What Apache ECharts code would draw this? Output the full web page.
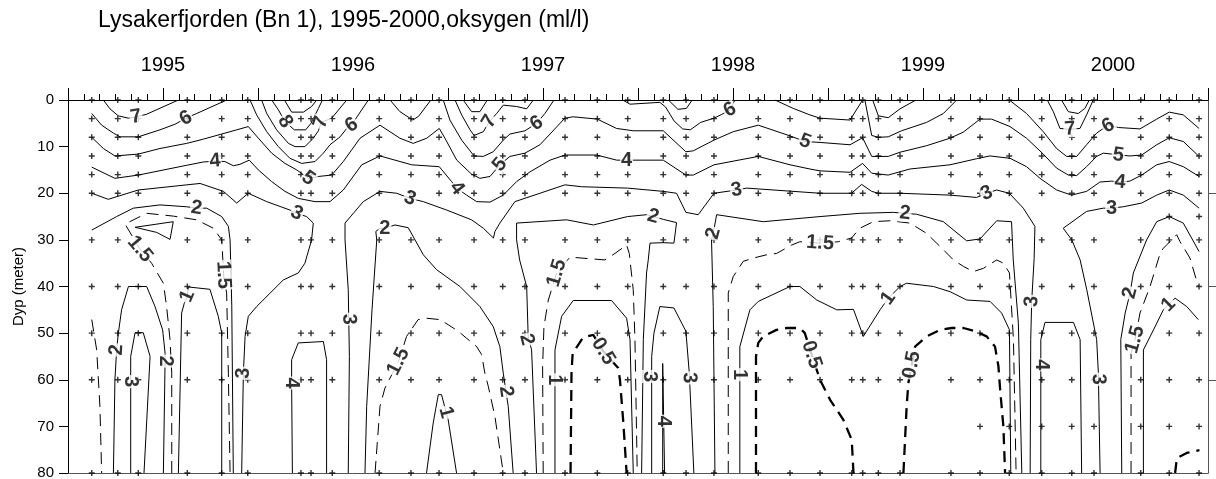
<!DOCTYPE html>
<html><head><meta charset="utf-8">
<script src="https://cdn.jsdelivr.net/npm/echarts@6/dist/echarts.min.js"></script>
<style>html,body{margin:0;padding:0;background:#fff}#c{width:1216px;height:479px}</style>
</head><body><div id="c"></div>
<script>
// ---- data (x = decimal year, y = depth in metres) ----
const titleText = 'Lysakerfjorden (Bn 1), 1995-2000,oksygen (ml/l)';
const yearRange = [1995, 2001];
const depthRange = [0, 80];

const sampleDates = [1995.125,1995.262,1995.370,1995.628,1995.809,1995.946,1996.226,1996.279,1996.391,1996.638,1996.805,1996.953,1997.137,1997.288,1997.405,1997.616,1997.786,1997.946,1998.133,1998.253,1998.400,1998.633,1998.800,1998.958,1999.125,1999.183,1999.265,1999.379,1999.647,1999.800,1999.954,2000.125,2000.283,2000.400,2000.646,2000.796,2000.953];
const sampleDepths = [0,4,8,12,16,20,30,40,50,60,80];
const extraSamples = [[1999.800,70],[1999.954,70],[2000.125,70],[2000.283,70],[2000.400,70],[2000.646,70],[2000.796,70],[2000.953,70],[2000.796,25],[2000.953,25]];

const c8 = [
 [[1996.072,0],[1996.107,2.1],[1996.142,4.6],[1996.191,6.4],[1996.251,6.4],[1996.279,5.0],[1996.318,1.8],[1996.339,0]],
 [[1996.139,0],[1996.177,2.6],[1996.239,2.6],[1996.282,1.4],[1996.309,0]],
 [[1997.080,0],[1997.124,2.5],[1997.168,2.5],[1997.207,0]],
 [[2000.229,0],[2000.265,2.5],[2000.317,2.9],[2000.352,1.8],[2000.375,0]]
];
const c7 = [
 [[1995.186,0],[1995.221,1.9],[1995.265,3.4],[1995.318,3.9],[1995.358,3.6],[1995.411,3.1],[1995.581,0]],
 [[1996.019,0],[1996.046,2.9],[1996.098,6.4],[1996.160,9.3],[1996.195,10],[1996.247,10],[1996.291,8.2],[1996.318,6.6],[1996.332,4.8],[1996.388,3.9],[1996.467,0]],
 [[1997.037,0],[1997.072,3.2],[1997.116,6.4],[1997.137,7.6],[1997.186,6.8],[1997.218,4.6],[1997.256,2.9],[1997.291,1.1],[1997.361,1.4],[1997.414,1.9],[1997.449,0]],
 [[1998.160,0],[1998.210,2],[1998.255,1.8],[1998.285,0]],
 [[1999.235,0],[1999.265,3.4],[1999.317,3.8],[1999.379,1.9],[1999.463,0]],
 [[2000.154,0],[2000.186,2.5],[2000.221,6.1],[2000.274,6.3],[2000.326,6.1],[2000.361,3.2],[2000.396,0]]
];
const c6 = [
 [[1995.125,2.9],[1995.177,5.4],[1995.239,7.1],[1995.274,7.9],[1995.370,7.9],[1995.484,6.4],[1995.563,5.2],[1995.621,3.9],[1995.677,2.9],[1995.835,0]],
 [[1995.958,0],[1995.993,3.2],[1996.046,6.8],[1996.107,10],[1996.168,12.5],[1996.230,13.6],[1996.300,13.2],[1996.344,11.4],[1996.379,9.6],[1996.432,7.9],[1996.467,6.1],[1996.493,5.4],[1996.528,3.2],[1996.581,0]],
 [[1996.695,0],[1996.747,2.5],[1996.815,4.3],[1996.845,3.5],[1996.910,0]],
 [[1996.975,0],[1997.010,4.3],[1997.072,8.6],[1997.137,12],[1997.186,12.1],[1997.238,11.1],[1997.291,8.6],[1997.326,7.3],[1997.405,6.6],[1997.466,5],[1997.510,2.9],[1997.558,0]],
 [[1997.920,0],[1997.958,0.9],[1998.115,0.5],[1998.145,1.5],[1998.190,4.5],[1998.235,6.2],[1998.275,6.4],[1998.330,4.8],[1998.400,3.9],[1998.440,3.1],[1998.484,2.1],[1998.510,0]],
 [[1998.721,0],[1998.817,1.8],[1998.905,3.2],[1998.958,3.9],[1999.116,4.3],[1999.182,0]],
 [[1999.194,0],[1999.230,7.6],[1999.265,8],[1999.317,7.9],[1999.387,6.6],[1999.519,4.8],[1999.607,2.9],[1999.677,0]],
 [[1999.954,0],[2000.045,2.9],[2000.133,6.8],[2000.203,10.4],[2000.256,12.1],[2000.309,12.1],[2000.361,9.6],[2000.414,7.1],[2000.449,6.1],[2000.475,5.5],[2000.528,5.9],[2000.642,6.2],[2000.730,4.1],[2000.796,2.6],[2000.870,3.2],[2000.953,6.1]]
];
const c5 = [
 [[1995.125,8],[1995.186,10.4],[1995.247,12],[1995.370,11.6],[1995.484,10.4],[1995.625,9.3],[1995.712,8.4],[1995.800,7.4],[1995.888,6.4],[1995.949,5.7],[1996.002,8.2],[1996.072,11.4],[1996.142,13.6],[1996.204,15],[1996.265,16.8],[1996.318,16.4],[1996.388,16.1],[1996.449,13.2],[1996.537,8.2],[1996.642,5.4],[1996.747,8.2],[1996.817,9.3],[1996.888,8.2],[1996.954,6.1],[1996.984,8.2],[1997.046,12.9],[1997.124,15.9],[1997.168,16.8],[1997.221,16.4],[1997.273,13.9],[1997.326,12.1],[1997.405,11.4],[1997.484,9.6],[1997.615,3.9],[1997.659,3.6],[1997.786,4.1],[1997.887,6.1],[1997.975,6.6],[1998.133,6.6],[1998.252,11.1],[1998.291,10.9],[1998.400,8.6],[1998.501,6.8],[1998.633,5.4],[1998.800,7.7],[1998.879,8.9],[1998.958,9.1],[1999.116,9.6],[1999.182,8.1],[1999.230,12.1],[1999.317,12.1],[1999.379,11.2],[1999.519,9.8],[1999.642,8.2],[1999.712,6.9],[1999.800,4.1],[1999.861,4.1],[1999.958,5.7],[2000.045,8.2],[2000.133,11.6],[2000.203,14.6],[2000.265,16.1],[2000.309,16.2],[2000.361,14.3],[2000.414,12.1],[2000.449,11.4],[2000.493,11.6],[2000.528,11.8],[2000.589,12],[2000.651,11.8],[2000.730,9.6],[2000.796,8.1],[2000.870,8.9],[2000.953,12.1]]
];
const c4 = [
 [[1995.125,14.4],[1995.247,16.8],[1995.370,16.1],[1995.625,14],[1995.712,13.3],[1995.774,13.1],[1995.826,13.2],[1995.870,14.1],[1995.905,13.8],[1995.954,12.9],[1996.002,15],[1996.072,17.5],[1996.142,19.6],[1996.212,21.1],[1996.300,21.8],[1996.379,21.8],[1996.449,19.3],[1996.546,13.9],[1996.642,12],[1996.809,13.9],[1996.954,14.3],[1997.019,17.5],[1997.046,18.9],[1997.098,20.4],[1997.151,21.8],[1997.221,21.9],[1997.291,20.4],[1997.361,17.5],[1997.432,15.4],[1997.537,12.9],[1997.616,11.8],[1997.782,11.8],[1997.888,12.9],[1997.940,12.9],[1998.011,12.9],[1998.133,12.9],[1998.252,16.1],[1998.291,16.1],[1998.400,13.9],[1998.633,12.1],[1998.800,13.9],[1998.905,14.8],[1998.958,15.2],[1999.116,15.5],[1999.182,13.6],[1999.230,15.7],[1999.317,16.1],[1999.431,14.8],[1999.642,13.9],[1999.782,12.6],[1999.852,12],[1999.958,12.5],[2000.045,14.3],[2000.116,16.8],[2000.203,19.3],[2000.282,20.4],[2000.361,19.6],[2000.431,17.6],[2000.493,17.4],[2000.537,17.6],[2000.589,17.4],[2000.651,16.1],[2000.730,13.9],[2000.796,13.2],[2000.870,14.3],[2000.953,16.4]],
 [[1996.181,80],[1996.177,60.7],[1996.177,55.7],[1996.212,52.1],[1996.344,51.8],[1996.361,55.7],[1996.361,80]],
 [[1998.130,80],[1998.130,56.5],[1998.137,56.5],[1998.140,80]],
 [[2000.120,80],[2000.120,51.4],[2000.142,47.7],[2000.292,47.7],[2000.327,51.4],[2000.335,80]]
];
const c3 = [
 [[1995.125,20],[1995.212,21.3],[1995.370,19.3],[1995.625,18.2],[1995.695,17.9],[1995.818,19.6],[1995.888,22.1],[1995.949,20],[1996.046,21.8],[1996.168,23.6],[1996.204,24.3],[1996.256,25],[1996.291,26.4],[1996.282,30],[1996.247,35],[1996.212,37.1],[1996.133,38.6],[1995.993,44.3],[1995.949,46.4],[1995.932,50.7],[1995.923,58.6],[1995.914,80]],
 [[1996.475,80],[1996.481,55],[1996.475,40.7],[1996.458,30],[1996.458,26.4],[1996.554,21.8],[1996.642,19.6],[1996.730,20],[1996.800,21.1],[1996.870,21.8],[1996.993,23.6],[1997.124,25.7],[1997.186,27.5],[1997.239,29.6],[1997.247,28.2],[1997.273,26.4],[1997.352,21.8],[1997.484,20],[1997.615,18.2],[1997.703,18.6],[1997.945,18.9],[1998.133,19.6],[1998.203,20],[1998.252,24.1],[1998.317,24.6],[1998.400,20],[1998.519,19.3],[1998.572,18.9],[1998.958,20],[1999.124,20],[1999.177,18.1],[1999.230,19.6],[1999.265,20],[1999.379,20],[1999.642,20.4],[1999.782,20.9],[1999.835,20],[1999.888,19.3],[1999.954,20],[2000.028,23.2],[2000.089,27.1],[2000.085,34],[2000.072,43.2],[2000.067,51.4],[2000.064,80]],
 [[2000.432,80],[2000.423,58.6],[2000.414,51.4],[2000.362,40.7],[2000.327,34.3],[2000.283,30],[2000.238,27.5],[2000.361,23.9],[2000.449,23.2],[2000.493,23.2],[2000.554,22.9],[2000.651,22.1],[2000.730,20.4],[2000.796,19.3],[2000.870,20.4],[2000.953,23.2]],
 [[1995.330,80],[1995.330,55],[1995.353,49.9],[1995.396,49.9],[1995.432,55],[1995.400,80]],
 [[1998.072,80],[1998.072,55],[1998.084,50],[1998.115,44.3],[1998.189,44.6],[1998.252,49.6],[1998.270,58.6],[1998.294,80]]
];
const c2 = [
 [[1995.125,27.9],[1995.256,25],[1995.344,23.2],[1995.484,22.5],[1995.625,22.9],[1995.677,23.2],[1995.730,23.2],[1995.809,25],[1995.844,27.1],[1995.853,30],[1995.862,44],[1995.870,80]],
 [[1996.563,80],[1996.572,65.7],[1996.600,45],[1996.625,30],[1996.620,28.2],[1996.642,27.5],[1996.668,27.5],[1996.721,26.8],[1996.791,27.4],[1996.870,33.2],[1996.940,36.4],[1997.063,40],[1997.168,44.3],[1997.238,48.6],[1997.273,52.9],[1997.291,58.6],[1997.305,62.5],[1997.317,65.7],[1997.343,80]],
 [[1997.466,80],[1997.440,53.6],[1997.422,50.7],[1997.414,40],[1997.377,34.3],[1997.361,30],[1997.361,26.4],[1997.624,25.7],[1997.765,26.8],[1997.945,25],[1998.045,24.6],[1998.080,25],[1998.133,25.6],[1998.203,26.3],[1998.189,30.7],[1998.133,30.6],[1998.063,30.7],[1998.054,34.3],[1998.045,37.1],[1998.028,51.4],[1998.019,80]],
 [[1998.405,80],[1998.396,44.3],[1998.387,30],[1998.396,28.6],[1998.414,24.6],[1998.659,26.1],[1998.958,25],[1999.168,24.3],[1999.344,24.1],[1999.405,24.3],[1999.466,24.5],[1999.607,26.1],[1999.730,30.2],[1999.800,29.8],[1999.888,25.9],[1999.966,26.1],[1999.975,34.3],[2000.002,47.9],[2000.020,80]],
 [[2000.546,80],[2000.541,51.4],[2000.564,45.7],[2000.590,41.4],[2000.607,37.1],[2000.677,30],[2000.730,26.1],[2000.796,25],[2000.870,26.4],[2000.953,32.5]],
 [[1995.239,80],[1995.247,60],[1995.256,53.6],[1995.265,50],[1995.282,45],[1995.318,40],[1995.414,40],[1995.458,44.3],[1995.498,49.3],[1995.511,54.3],[1995.511,56],[1995.502,80]]
];
const c1 = [
 [[1995.353,27.3],[1995.554,26.1],[1995.537,29.9],[1995.467,28.4],[1995.353,27.3]],
 [[1995.581,80],[1995.598,45.7],[1995.612,43.6],[1995.628,42.1],[1995.633,40.1],[1995.747,40.6],[1995.791,46.4],[1995.809,50],[1995.809,80]],
 [[1996.887,80],[1996.922,69.3],[1996.949,63.2],[1996.966,63.2],[1996.984,66],[1997.001,68.6],[1997.045,80]],
 [[1997.563,80],[1997.563,53.6],[1997.598,46.4],[1997.659,43],[1997.861,43],[1997.940,46.8],[1997.958,51.4],[1997.975,80]],
 [[1998.536,80],[1998.536,52.9],[1998.589,45],[1998.633,43.2],[1998.800,40],[1998.852,40],[1998.941,42.9],[1999.046,45],[1999.134,44.9],[1999.186,50.7],[1999.274,45],[1999.318,42.5],[1999.379,40],[1999.414,39.3],[1999.555,40],[1999.642,41.1],[1999.730,42.9],[1999.853,43.2],[1999.914,45.7],[1999.955,49.3],[1999.962,80]],
 [[2000.660,80],[2000.660,53.6],[2000.713,49.3],[2000.765,45],[2000.792,43.9],[2000.827,42.5],[2000.888,44.3],[2000.949,47.1]]
];
const c15 = [
 [[1995.125,47.1],[1995.151,53.6],[1995.168,65.7],[1995.177,80]],
 [[1995.546,80],[1995.546,58.6],[1995.537,51.4],[1995.519,44.3],[1995.502,39.3],[1995.440,35],[1995.379,32],[1995.300,26.6],[1995.414,24.3],[1995.554,24.9],[1995.677,25.7],[1995.765,27.5],[1995.809,30],[1995.816,35],[1995.820,38],[1995.835,41.4],[1995.844,58.6],[1995.853,80]],
 [[1996.616,80],[1996.642,65.7],[1996.668,61.8],[1996.739,56.1],[1996.782,50.7],[1996.843,47.1],[1996.887,46.8],[1996.958,47.1],[1997.001,48.2],[1997.054,49.6],[1997.098,51.1],[1997.151,52.9],[1997.177,54.6],[1997.194,58.6],[1997.212,61.4],[1997.247,67.9],[1997.291,80]],
 [[1997.501,80],[1997.498,57.1],[1997.505,48.6],[1997.528,42.9],[1997.572,37.1],[1997.642,33.7],[1997.826,34.3],[1997.879,32.9],[1997.940,31.1],[1997.954,32.9],[1997.975,40.7],[1997.984,51.4],[1997.996,80]],
 [[1998.475,80],[1998.475,41.4],[1998.501,37.9],[1998.554,34.6],[1998.607,33.9],[1998.677,33.2],[1998.730,32.9],[1998.809,31.1],[1998.852,30.4],[1998.958,30.7],[1999.054,30.4],[1999.124,29.6],[1999.168,27.5],[1999.238,26.1],[1999.326,25.9],[1999.431,26.4],[1999.519,28.6],[1999.607,32.1],[1999.660,34.3],[1999.713,35.7],[1999.765,36.8],[1999.818,36.1],[1999.888,34.3],[1999.923,35],[1999.955,37.1],[1999.976,51.4],[1999.990,80]],
 [[2000.595,80],[2000.595,54.3],[2000.616,51.4],[2000.642,45.7],[2000.695,40],[2000.748,32.9],[2000.765,31.8],[2000.809,30],[2000.835,28.9],[2000.853,30.4],[2000.905,33.9],[2000.914,34.3],[2000.949,40]]
];
const c05 = [
 [[1997.645,80],[1997.650,58.6],[1997.656,54.3],[1997.712,50.9],[1997.765,50.4],[1997.817,53.9],[1997.896,57.5],[1997.905,60],[1997.923,69.3],[1997.940,80]],
 [[1998.621,80],[1998.621,55],[1998.633,52.1],[1998.659,50.7],[1998.729,49.3],[1998.782,48.9],[1998.852,48.9],[1998.878,50],[1998.914,54.6],[1998.958,60],[1999.011,64.3],[1999.081,68.6],[1999.125,72.9],[1999.134,80]],
 [[1999.397,80],[1999.414,65.7],[1999.423,60.7],[1999.441,56.8],[1999.458,52.9],[1999.520,50.7],[1999.590,49.3],[1999.651,48.9],[1999.713,48.9],[1999.774,49.6],[1999.835,50.7],[1999.879,52.9],[1999.897,57.1],[1999.906,62.1],[1999.923,70],[1999.932,80]],
 [[2000.827,80],[2000.836,76.8],[2000.888,75.7],[2000.955,75.1]]
];
const contourLabels = [
 [1995.358,3.6,'7'],[1995.621,3.9,'6'],[1995.774,13.1,'4'],[1995.677,23.2,'2'],[1995.379,32,'1.5'],[1995.818,37.5,'1.5'],
 [1995.628,42.1,'1'],[1995.256,53.6,'2'],[1995.511,56,'2'],[1995.330,60.4,'3'],[1995.923,58.6,'3'],
 [1996.142,4.6,'8'],[1996.332,4.8,'7'],[1996.493,5.4,'6'],[1996.265,16.8,'5'],[1996.204,24.3,'3'],[1996.177,60.7,'4'],
 [1996.478,47,'3'],[1996.668,27.5,'2'],[1996.739,56.1,'1.5'],[1996.800,21.1,'3'],[1997.046,18.9,'4'],[1997.218,4.6,'7'],
 [1997.273,13.9,'5'],[1997.466,5,'6'],[1996.990,67,'1'],[1997.305,62.5,'2'],[1997.572,37.1,'1.5'],[1997.414,51.4,'2'],
 [1997.563,60,'1'],[1997.817,53.9,'0.5'],[1997.940,12.9,'4'],[1998.080,25,'2'],[1998.063,59.3,'3'],[1998.133,68.9,'4'],
 [1998.270,59.6,'3'],[1998.484,2.1,'6'],[1998.519,19.3,'3'],[1998.396,28.6,'2'],[1998.879,8.9,'5'],[1998.958,30.7,'1.5'],
 [1998.536,58.9,'1'],[1998.914,54.6,'0.5'],[1999.405,24.3,'2'],[1999.318,42.5,'1'],[1999.441,56.8,'0.5'],[1999.835,20,'3'],
 [2000.072,43.2,'3'],[2000.125,56.8,'4'],[2000.274,6.2,'7'],[2000.475,5.5,'6'],[2000.528,11.8,'5'],[2000.537,17.6,'4'],
 [2000.493,23.2,'3'],[2000.423,59.9,'3'],[2000.590,41.4,'2'],[2000.616,51.4,'1.5'],[2000.792,43.9,'1']
];

// ---- rendering ----
const FONT = '"Liberation Sans", Arial, Helvetica, sans-serif';
const chart = echarts.init(document.getElementById('c'), null, {renderer: 'canvas'});

const solid = {color: '#000', width: 1, type: 'solid'};
const dash15 = {color: '#000', width: 1, type: [12, 7]};
const dash05 = {color: '#000', width: 2.3, type: [11, 7]};

function lines(groups, style) {
  return groups.map(seg => ({
    type: 'line', data: seg, xAxisIndex: 0, yAxisIndex: 0,
    showSymbol: false, symbol: 'none', silent: true, animation: false,
    lineStyle: style, z: 3
  }));
}
const lineSeries = [].concat(
  lines(c8, solid), lines(c7, solid), lines(c6, solid), lines(c5, solid),
  lines(c4, solid), lines(c3, solid), lines(c2, solid), lines(c1, solid),
  lines(c15, dash15), lines(c05, dash05)
);

const samplePoints = sampleDates.flatMap(d => sampleDepths.map(z => [d, z])).concat(extraSamples);
const plusPath = 'path://M2.3,0h1.4v2.3h2.3v1.4h-2.3v2.3h-1.4v-2.3h-2.3v-1.4h2.3z';

const option = {
  backgroundColor: '#fff',
  animation: false,
  title: {
    text: titleText, left: 98, top: 9, padding: 0,
    textStyle: {fontFamily: FONT, fontSize: 23, fontWeight: 'normal', color: '#000'}
  },
  grid: {left: 68, right: 8, top: 100, bottom: 6, containLabel: false, outerBoundsMode: 'none'},
  xAxis: [
    {
      type: 'value', position: 'top', min: yearRange[0], max: yearRange[1], interval: 0.5,
      axisLine: {show: true, onZero: false, lineStyle: {color: '#000', width: 1}},
      axisTick: {show: true, inside: false, length: 12, lineStyle: {color: '#000'}},
      minorTick: {show: true, splitNumber: 6, length: 6, lineStyle: {color: '#000'}},
      axisLabel: {
        margin: 25, fontFamily: FONT, fontSize: 20, color: '#000',
        formatter: v => (Math.abs((v % 1) - 0.5) < 1e-6 ? String(Math.floor(v)) : '')
      },
      splitLine: {show: false}, minorSplitLine: {show: false}
    },
    {
      type: 'value', position: 'bottom', min: yearRange[0], max: yearRange[1],
      axisLine: {show: true, onZero: false, lineStyle: {color: '#555'}},
      axisTick: {show: false}, axisLabel: {show: false}, splitLine: {show: false}
    }
  ],
  yAxis: [
    {
      type: 'value', inverse: true, min: depthRange[0], max: depthRange[1], interval: 10, position: 'left',
      axisLine: {show: true, onZero: false, lineStyle: {color: '#000'}},
      axisTick: {show: true, length: 9, lineStyle: {color: '#000'}},
      axisLabel: {margin: 14, fontFamily: FONT, fontSize: 15, color: '#000'},
      splitLine: {show: false},
      name: 'Dyp (meter)', nameLocation: 'middle', nameGap: 38, nameRotate: 90,
      nameTextStyle: {fontFamily: FONT, fontSize: 15, color: '#000'}
    },
    {
      type: 'value', inverse: true, min: depthRange[0], max: depthRange[1], interval: 20, position: 'right',
      axisLine: {show: true, onZero: false, lineStyle: {color: '#555'}},
      axisTick: {show: true, length: 9, customValues: [20, 40, 60], lineStyle: {color: '#555'}},
      axisLabel: {show: false}, splitLine: {show: false}
    }
  ],
  series: lineSeries.concat([{
    type: 'scatter', data: samplePoints, xAxisIndex: 0, yAxisIndex: 0,
    symbol: plusPath, symbolSize: 6, itemStyle: {color: '#000'}, silent: true, z: 4
  }])
};
chart.setOption(option);

// label angles follow the nearest contour segment (computed through the chart's own scales)
const allSegs = [].concat(c8, c7, c6, c5, c4, c3, c2, c1, c15, c05);
const toPx = p => chart.convertToPixel({seriesIndex: 0}, p);
const pxSegs = allSegs.map(s => s.map(toPx));
function angleAt(pt) {
  let best = Infinity, ang = 0;
  pxSegs.forEach(s => {
    for (let i = 0; i < s.length - 1; i++) {
      const a = s[i], b = s[i + 1];
      const dx = b[0] - a[0], dy = b[1] - a[1];
      const L2 = dx * dx + dy * dy || 1e-9;
      let t = ((pt[0] - a[0]) * dx + (pt[1] - a[1]) * dy) / L2;
      t = Math.max(0, Math.min(1, t));
      const qx = a[0] + t * dx - pt[0], qy = a[1] + t * dy - pt[1];
      const d = qx * qx + qy * qy;
      if (d < best) { best = d; ang = Math.atan2(-dy, dx) * 180 / Math.PI; }
    }
  });
  if (ang >= 90) ang -= 180;
  if (ang < -90) ang += 180;
  return ang;
}
const labelData = contourLabels.map(l => ({
  value: [l[0], l[1]], name: l[2],
  label: {rotate: Math.round(angleAt(toPx([l[0], l[1]])))}
}));
option.series.push({
  type: 'scatter', data: labelData, xAxisIndex: 0, yAxisIndex: 0,
  symbolSize: 1, itemStyle: {color: 'rgba(0,0,0,0)'}, silent: true, z: 6,
  label: {
    show: true, position: 'inside', formatter: p => p.name,
    fontFamily: FONT, fontSize: 20, fontWeight: 'bold', color: '#000',
    backgroundColor: '#fff', padding: [0, 1], lineHeight: 17
  },
  labelLayout: {hideOverlap: false}
});
chart.setOption(option, true);
</script>
</body></html>
